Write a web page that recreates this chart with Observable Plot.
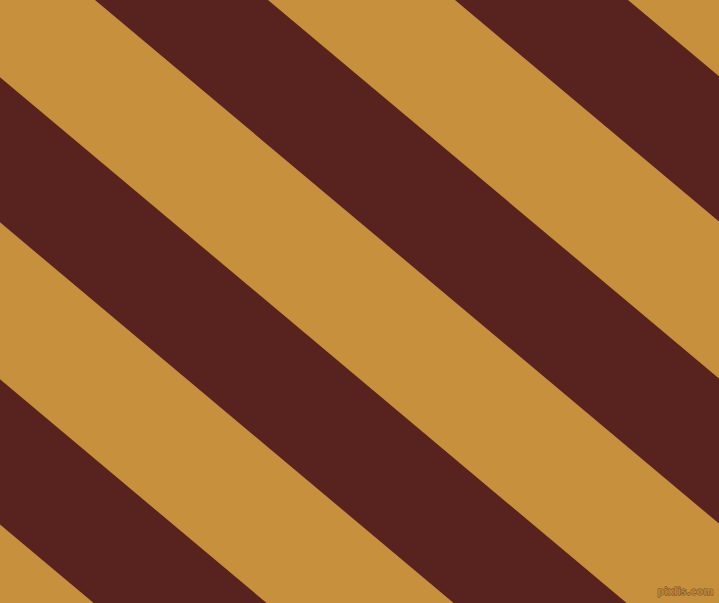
<!DOCTYPE html>
<html>
<head>
<meta charset="utf-8">
<script src="https://cdn.jsdelivr.net/npm/d3@7"></script>
<script src="https://cdn.jsdelivr.net/npm/@observablehq/plot@0.6"></script>
<style>
  html, body { margin: 0; padding: 0; background: #C7903D; }
  #chart svg { display: block; }
</style>
</head>
<body>
<div id="chart"></div>
<script>
// Stripe pattern data
const darkStripeStarts = [-625, -265, 95, 455]; // x where each dark stripe's left edge meets the top
const darkStripeWidth = [173, 173, 173, 173];    // horizontal width of each dark stripe at the top
const stripeAngleDeg = 40;                       // stripes descend to the right at this angle
const xExtent = [0, 719];
const yExtent = [0, 603];
const watermark = ["pixlis.com"];

const gold = "#C7903D";
const dark = "#58231F";

const slope = Math.tan(stripeAngleDeg * Math.PI / 180);

// Build area table: for each stripe, the band between its two edges at each end of the x extent
const bands = darkStripeStarts.flatMap((a, i) => {
  const b = a + darkStripeWidth[i];
  return xExtent.map(x => ({stripe: i, x, y1: slope * (x - b), y2: slope * (x - a)}));
});

const chart = Plot.plot({
  width: 719,
  height: 603,
  margin: 0,
  x: {domain: xExtent, range: [0, 719], axis: null},
  y: {domain: yExtent, range: [0, 603], axis: null},
  style: {background: gold},
  marks: [
    Plot.frame({fill: gold, stroke: null}),
    Plot.areaY(bands, {x: "x", y1: "y1", y2: "y2", z: "stripe", fill: dark, clip: true, curve: "linear"}),
    Plot.text(watermark, {
      x: 713, y: 591, text: d => d,
      textAnchor: "end", fontSize: 11, fontFamily: "DejaVu Sans Condensed", fontWeight: "bold",
      fill: "#b98638", stroke: "#6a4325", strokeWidth: 0.8
    })
  ]
});
document.getElementById("chart").append(chart);
</script>
</body>
</html>
